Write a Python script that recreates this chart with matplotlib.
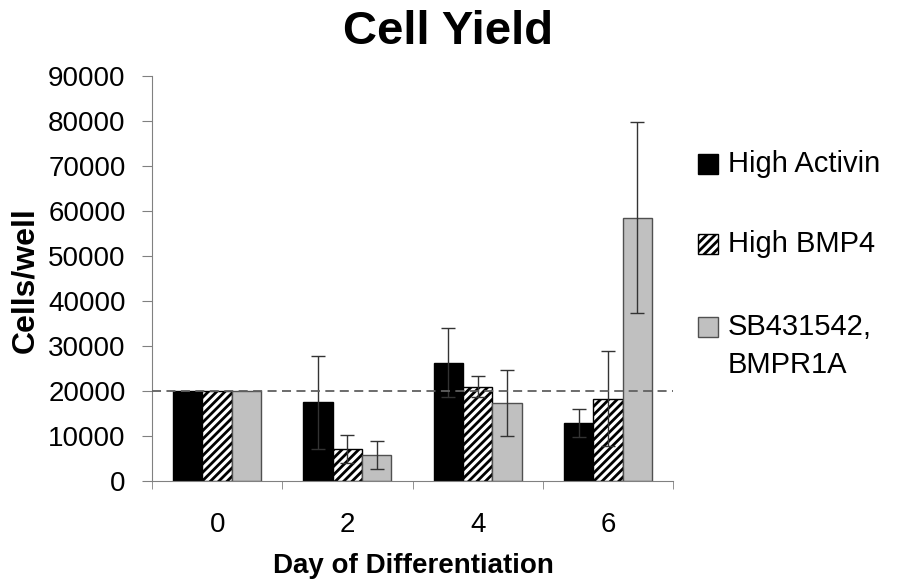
import numpy as np
import matplotlib
matplotlib.use("Agg")
import matplotlib.pyplot as plt
from matplotlib.patches import Rectangle

plt.rcParams['font.family'] = ['Liberation Sans', 'DejaVu Sans']
plt.rcParams['hatch.linewidth'] = 2.0

### Data ###
days = ["0", "2", "4", "6"]
series = ["High Activin", "High BMP4", "SB431542,\nBMPR1A"]
activin = [20000, 17500, 26300, 12800]
activin_err = [0, 10300, 7600, 3100]
bmp4 = [20000, 7200, 21000, 18300]
bmp4_err = [0, 3100, 2300, 10500]
sb = [20000, 5800, 17300, 58500]
sb_err = [0, 3200, 7400, 21200]
baseline = 20000

W, H = 897, 580
fig = plt.figure(figsize=(W / 100, H / 100), dpi=100)
ax = fig.add_axes([152 / W, 1 - 481 / H, 521 / W, 405 / H])

x = np.arange(len(days))
w = 0.225
styles = [
    dict(facecolor="black", edgecolor="black"),
    dict(facecolor="white", edgecolor="black", hatch="////"),
    dict(facecolor="#c0c0c0", edgecolor="#505050"),
]
vals = [activin, bmp4, sb]
errs = [activin_err, bmp4_err, sb_err]
for i in range(3):
    e = np.array(errs[i], dtype=float)
    xpos = x + (i - 1) * w
    ax.bar(xpos, vals[i], w, linewidth=1.0, zorder=2, **styles[i])
    mask = e > 0
    ax.errorbar(xpos[mask], np.array(vals[i])[mask], yerr=e[mask],
                fmt="none", ecolor="#333333", elinewidth=1.0, capsize=5, capthick=1.0, zorder=3)

ax.axhline(baseline, color="#606060", linestyle=(0, (5, 3)), linewidth=1.3, zorder=4)

ax.set_xlim(-0.5, 3.5)
ax.set_ylim(0, 90000)
ax.set_yticks(np.arange(0, 90001, 10000))
ax.set_xticks(x)
ax.set_xticklabels(days)
ax.set_xticks(np.arange(-0.5, 3.6, 1), minor=True)
ax.tick_params(axis="x", which="major", length=0, pad=22, labelsize=20)
ax.tick_params(axis="x", which="minor", length=6, direction="out", color="#808080")
ax.tick_params(axis="y", length=7, direction="out", color="#808080", labelsize=20, pad=12)
for s in ["top", "right"]:
    ax.spines[s].set_visible(False)
for s in ["left", "bottom"]:
    ax.spines[s].set_color("#808080")

fig.text(0.5, 1 - 32 / H, "Cell Yield", fontsize=34, fontweight="bold", ha="center", va="center")
fig.text(25 / W, 1 - 280 / H, "Cells/well", fontsize=23, fontweight="bold",
         rotation=90, ha="center", va="center")
fig.text(413 / W, 1 - 566 / H, "Day of Differentiation", fontsize=20, fontweight="bold",
         ha="center", va="center")

# legend drawn by hand so the marker sits on the first text line
rows = [164, 244, 327]
for i, lab in enumerate(series):
    yc = rows[i]
    fig.add_artist(Rectangle((698 / W, 1 - (yc + 10) / H), 20 / W, 20 / H,
                             transform=fig.transFigure, linewidth=1.0, **styles[i]))
    for j, line in enumerate(lab.split("\n")):
        fig.text(728 / W, 1 - (yc + 38 * j) / H, line, fontsize=21, ha="left", va="center")

fig.savefig("out.png", dpi=100)
